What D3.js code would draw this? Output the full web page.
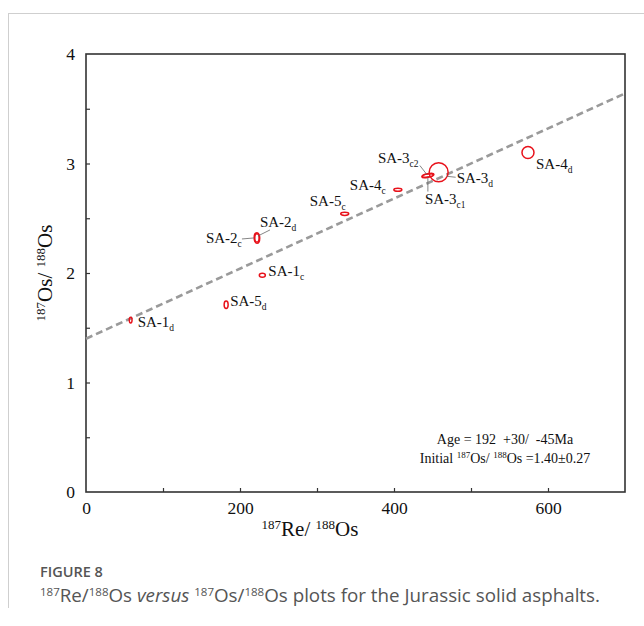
<!DOCTYPE html>
<html><head><meta charset="utf-8">
<script src="https://cdn.jsdelivr.net/npm/d3@7"></script>
<style>
body{margin:0;background:#fff;}
svg{display:block;}
</style></head>
<body>
<svg id="chart" width="644" height="626"></svg>
<script>
// ---- data ----
const sampleBase = ["SA-1","SA-5","SA-1","SA-2","SA-2","SA-5","SA-4","SA-3","SA-3","SA-3","SA-4"];
const sampleSub  = ["d","d","c","c","d","c","c","c2","c1","d","d"];
const reOs   = [58, 182, 229, 222, 222, 336, 405, 444, 444, 458, 574];   // 187Re/188Os
const osOs   = [1.57, 1.71, 1.98, 2.32, 2.32, 2.54, 2.76, 2.89, 2.89, 2.92, 3.10]; // 187Os/188Os
const reErr  = [1.8, 2.6, 3.9, 3.6, 2.8, 5.2, 5.2, 8.0, 7.0, 12.3, 7.8];
const osErr  = [0.027, 0.034, 0.018, 0.048, 0.038, 0.014, 0.014, 0.016, 0.014, 0.087, 0.055];
const errTilt = [0, 0, 0, 0, 0, 0, 0, -12, -8, 0, 0];
const xTicks = [0, 200, 400, 600];
const xMinorTicks = [100, 200, 300, 400, 500, 600];
const yTicks = [0, 1, 2, 3, 4];
const yMinorTicks = [0.5, 1, 1.5, 2, 2.5, 3, 3.5];
const initialRatio = 1.40;
const isochronSlope = 0.00320;

// ---- layout ----
const svg = d3.select("#chart");
const M = {left: 86, right: 625, top: 54, bottom: 492};
const x = d3.scaleLinear().domain([0, 700]).range([M.left, M.right]);
const y = d3.scaleLinear().domain([0, 4]).range([M.bottom, M.top]);
const serif = "'Liberation Serif','Times New Roman',serif";
const sans = "'Open Sans','Noto Sans',sans-serif";

// page frame lines
svg.append("line").attr("x1", 8).attr("x2", 644).attr("y1", 13.5).attr("y2", 13.5)
  .attr("stroke", "#cfcfcf").attr("stroke-width", 1);
svg.append("line").attr("x1", 8.5).attr("x2", 8.5).attr("y1", 13).attr("y2", 608)
  .attr("stroke", "#cfcfcf").attr("stroke-width", 1);

// axes
const gx = svg.append("g").attr("transform", `translate(0,${M.bottom})`)
  .call(d3.axisBottom(x).tickValues(xTicks).tickSize(0).tickPadding(10).tickFormat(d3.format("d")));
const gxm = svg.append("g").attr("transform", `translate(0,${M.bottom})`)
  .call(d3.axisBottom(x).tickValues(xMinorTicks).tickSize(-4).tickFormat(""));
const gy = svg.append("g").attr("transform", `translate(${M.left},0)`)
  .call(d3.axisLeft(y).tickValues(yTicks).tickSize(0).tickPadding(11).tickFormat(d3.format("d")));
const gym = svg.append("g").attr("transform", `translate(${M.left},0)`)
  .call(d3.axisLeft(y).tickValues(yMinorTicks).tickSize(-4).tickFormat(""));
[gx, gxm, gy, gym].forEach(g => {
  g.select(".domain").remove();
  g.selectAll("line").attr("stroke", "#333").attr("stroke-width", 1.2);
  g.selectAll("text").attr("font-family", serif).attr("font-size", 17.5).attr("fill", "#111");
});

// frame
svg.append("rect").attr("x", M.left).attr("y", M.top)
  .attr("width", M.right - M.left).attr("height", M.bottom - M.top)
  .attr("fill", "none").attr("stroke", "#333").attr("stroke-width", 1.6);

// isochron
svg.append("line")
  .attr("x1", x(0)).attr("y1", y(initialRatio))
  .attr("x2", x(700)).attr("y2", y(initialRatio + isochronSlope * 700))
  .attr("stroke", "#9a9a9a").attr("stroke-width", 2.6).attr("stroke-dasharray", "7,4");

// error ellipses
const data = reOs.map((v, i) => ({x: v, y: osOs[i], ex: reErr[i], ey: osErr[i], t: errTilt[i], base: sampleBase[i], sub: sampleSub[i]}));
svg.append("g").selectAll("ellipse").data(data).join("ellipse")
  .attr("cx", 0).attr("cy", 0)
  .attr("rx", d => x(d.ex) - x(0))
  .attr("ry", d => y(0) - y(d.ey))
  .attr("transform", d => `translate(${x(d.x)},${y(d.y)}) rotate(${d.t})`)
  .attr("fill", "none").attr("stroke", "#e8121b").attr("stroke-width", 1.5);

// label placement (offsets in px from point) and leader lines
const labelOffset = {
  "SA-1d": [7, 7], "SA-5d": [4, 1], "SA-1c": [6, 1], "SA-2c": [-51, 5], "SA-2d": [3, -11],
  "SA-5c": [-35, -8], "SA-4c": [-48, 0], "SA-3c2": [-50, -13], "SA-3c1": [-3, 28],
  "SA-3d": [18, 11], "SA-4d": [8, 16]
};
const leaders = {
  "SA-2c": [[-15, 1], [-3, 0]], "SA-2d": [[1, -2], [13, -8]],
  "SA-3c2": [[-8, -10], [-1, -1]], "SA-3c1": [[0, 2], [0, 16]], "SA-3d": [[8, 4], [17, 5]]
};
data.forEach(d => {
  const key = d.base + d.sub;
  const px = x(d.x), py = y(d.y);
  const off = labelOffset[key];
  const t = svg.append("text").attr("x", px + off[0]).attr("y", py + off[1])
    .attr("font-family", serif).attr("font-size", 15).attr("fill", "#111");
  t.append("tspan").text(d.base);
  t.append("tspan").text(d.sub).attr("font-size", 9.5).attr("dy", 4);
  if (leaders[key]) {
    const l = leaders[key];
    svg.append("line").attr("x1", px + l[0][0]).attr("y1", py + l[0][1])
      .attr("x2", px + l[1][0]).attr("y2", py + l[1][1])
      .attr("stroke", "#666").attr("stroke-width", 0.8);
  }
});

// annotation
svg.append("text").attr("x", 505).attr("y", 444).attr("text-anchor", "middle")
  .attr("font-family", serif).attr("font-size", 14).attr("fill", "#111")
  .attr("xml:space", "preserve").text("Age = 192  +30/  -45Ma");
const ann = svg.append("text").attr("x", 505).attr("y", 463).attr("text-anchor", "middle")
  .attr("font-family", serif).attr("font-size", 14).attr("fill", "#111");
ann.append("tspan").text("Initial ");
ann.append("tspan").text("187").attr("font-size", 9).attr("dy", -5);
ann.append("tspan").text("Os/ ").attr("dy", 5);
ann.append("tspan").text("188").attr("font-size", 9).attr("dy", -5);
ann.append("tspan").text("Os =1.40±0.27").attr("dy", 5);

// axis titles
const xt = svg.append("text").attr("x", 310).attr("y", 536).attr("text-anchor", "middle")
  .attr("font-family", serif).attr("font-size", 21).attr("fill", "#111");
xt.append("tspan").text("187").attr("font-size", 13).attr("dy", -7);
xt.append("tspan").text("Re/ ").attr("dy", 7);
xt.append("tspan").text("188").attr("font-size", 13).attr("dy", -7);
xt.append("tspan").text("Os").attr("dy", 7);

const yt = svg.append("text").attr("transform", "translate(52,273) rotate(-90)").attr("text-anchor", "middle")
  .attr("font-family", serif).attr("font-size", 21).attr("fill", "#111");
yt.append("tspan").text("187").attr("font-size", 13).attr("dy", -7);
yt.append("tspan").text("Os/ ").attr("dy", 7);
yt.append("tspan").text("188").attr("font-size", 13).attr("dy", -7);
yt.append("tspan").text("Os").attr("dy", 7);

// caption
svg.append("text").attr("x", 40).attr("y", 577).attr("font-family", sans)
  .attr("font-size", 14.5).attr("font-weight", 600).attr("fill", "#555").text("FIGURE 8");
const cap = svg.append("text").attr("x", 40).attr("y", 602).attr("font-family", sans)
  .attr("font-size", 18.8).attr("fill", "#555");
cap.append("tspan").text("187").attr("font-size", 11.5).attr("dy", -6);
cap.append("tspan").text("Re/").attr("dy", 6);
cap.append("tspan").text("188").attr("font-size", 11.5).attr("dy", -6);
cap.append("tspan").text("Os ").attr("dy", 6);
cap.append("tspan").text("versus").attr("font-style", "italic");
cap.append("tspan").text(" ");
cap.append("tspan").text("187").attr("font-size", 11.5).attr("dy", -6);
cap.append("tspan").text("Os/").attr("dy", 6);
cap.append("tspan").text("188").attr("font-size", 11.5).attr("dy", -6);
cap.append("tspan").text("Os plots for the Jurassic solid asphalts.").attr("dy", 6);
</script>
</body></html>
